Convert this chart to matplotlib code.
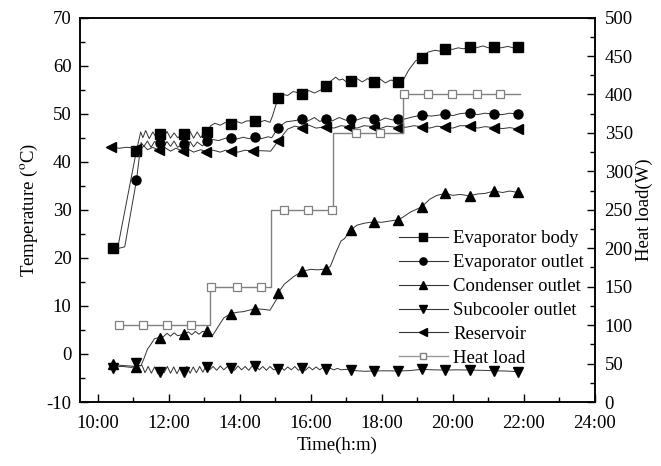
import matplotlib
matplotlib.use("Agg")
import matplotlib.pyplot as plt
from matplotlib.ticker import MultipleLocator, FixedLocator

plt.rcParams["font.family"] = ["Liberation Serif", "DejaVu Serif"]
plt.rcParams["mathtext.fontset"] = "stix"
plt.rcParams["font.size"] = 13.5
plt.rcParams["axes.unicode_minus"] = False

# time in hours, temperature in degC
# ---- evaporator body ----
body_line = [(10.42, 22.0), (10.56, 22.0), (11.09, 42.3), (11.21, 46.2), (11.27, 45.0),
             (11.35, 46.5), (11.45, 44.8), (11.55, 46.2), (11.65, 45.0), (11.75, 45.8),
             (11.85, 45.0), (11.95, 46.3), (12.05, 44.9), (12.15, 46.0), (12.25, 45.0),
             (12.4, 45.8), (12.5, 45.0), (12.6, 46.3), (12.7, 44.9), (12.8, 46.2),
             (12.9, 45.0), (13.0, 46.2), (13.09, 46.25), (13.18, 47.5), (13.3, 48.0),
             (13.45, 47.6), (13.6, 48.2), (13.75, 47.9), (13.9, 48.4), (14.05, 48.0),
             (14.2, 48.5), (14.4, 48.5), (14.55, 48.2), (14.7, 48.6), (14.85, 48.2),
             (14.92, 49.5), (15.08, 53.3), (15.2, 54.0), (15.35, 53.8), (15.5, 54.6),
             (15.75, 54.2), (15.95, 54.8), (16.1, 54.3), (16.3, 55.0), (16.44, 55.8),
             (16.55, 56.7), (16.7, 57.6), (16.8, 57.0), (16.9, 57.2), (17.0, 56.6),
             (17.12, 56.9), (17.3, 57.3), (17.45, 56.6), (17.6, 57.3), (17.77, 56.6),
             (17.95, 57.2), (18.1, 56.4), (18.25, 57.0), (18.46, 56.6), (18.58, 56.7),
             (18.75, 59.0), (18.95, 61.0), (19.12, 61.6), (19.3, 62.8), (19.5, 63.2),
             (19.65, 63.0), (19.79, 63.4), (20.0, 63.4), (20.15, 63.7), (20.3, 63.5),
             (20.48, 63.9), (20.65, 63.7), (20.85, 64.1), (21.0, 63.7), (21.16, 63.9),
             (21.35, 63.7), (21.55, 64.0), (21.7, 63.7), (21.84, 63.9)]

# ---- evaporator outlet ----
outlet_line = [(10.43, 22.0), (10.6, 22.0), (10.76, 22.3), (11.09, 36.1), (11.22, 44.0),
               (11.3, 43.2), (11.4, 44.3), (11.5, 43.0), (11.6, 44.2), (11.75, 43.8),
               (11.85, 43.0), (11.95, 44.2), (12.05, 43.2), (12.15, 44.3), (12.25, 43.0),
               (12.4, 43.7), (12.5, 43.0), (12.6, 44.2), (12.7, 43.1), (12.8, 44.1),
               (12.95, 43.3), (13.09, 44.4), (13.25, 44.6), (13.4, 44.4), (13.6, 44.9),
               (13.75, 44.9), (13.9, 44.7), (14.1, 45.1), (14.25, 44.8), (14.4, 45.1),
               (14.6, 44.8), (14.8, 45.2), (14.9, 45.0), (15.08, 47.1), (15.3, 48.3),
               (15.5, 48.5), (15.75, 48.8), (15.9, 48.4), (16.1, 49.2), (16.25, 48.4),
               (16.44, 48.8), (16.6, 48.5), (16.8, 49.2), (17.0, 48.6), (17.12, 48.9),
               (17.3, 48.7), (17.5, 49.2), (17.77, 48.9), (17.95, 48.6), (18.1, 49.1),
               (18.3, 48.7), (18.46, 48.9), (18.6, 48.8), (18.85, 49.3), (19.12, 49.7),
               (19.4, 49.5), (19.79, 49.9), (20.0, 49.6), (20.2, 50.0), (20.48, 50.2),
               (20.7, 49.8), (20.9, 50.1), (21.16, 49.9), (21.4, 49.8), (21.6, 50.1),
               (21.84, 49.9)]

# ---- condenser outlet ----
cond_line = [(10.43, -2.2), (10.7, -2.4), (10.9, -2.5), (11.09, -2.6), (11.22, -2.4),
             (11.3, -1.0), (11.4, 1.0), (11.46, 1.6), (11.6, 3.2), (11.75, 3.4),
             (11.85, 3.6), (11.95, 4.3), (12.05, 3.7), (12.15, 4.4), (12.25, 3.8),
             (12.42, 4.1), (12.55, 4.6), (12.65, 4.0), (12.75, 4.7), (12.85, 4.1),
             (12.95, 4.7), (13.08, 4.6), (13.24, 3.9), (13.4, 5.8), (13.55, 7.5),
             (13.75, 8.4), (13.95, 8.7), (14.1, 8.8), (14.42, 9.4), (14.65, 9.3),
             (14.85, 9.1), (15.03, 11.3), (15.08, 12.7), (15.25, 14.5), (15.5, 16.0),
             (15.75, 17.2), (16.0, 17.6), (16.2, 17.5), (16.44, 17.7), (16.55, 18.2),
             (16.7, 21.0), (16.85, 23.5), (16.95, 24.0), (17.12, 25.8), (17.3, 26.8),
             (17.5, 27.2), (17.77, 27.5), (18.0, 27.4), (18.25, 27.7), (18.46, 27.9),
             (18.6, 28.5), (18.8, 29.5), (19.12, 30.6), (19.35, 32.2), (19.55, 33.0),
             (19.79, 33.4), (20.0, 33.0), (20.2, 33.2), (20.48, 32.9), (20.7, 33.3),
             (20.9, 33.4), (21.16, 33.9), (21.4, 33.6), (21.6, 33.9), (21.84, 33.6)]

# ---- subcooler outlet ----
sub_line = [(10.43, -2.7), (10.7, -2.6), (10.95, -2.8), (11.09, -2.5), (11.25, -2.4),
            (11.33, -3.9), (11.42, -2.6), (11.51, -4.0), (11.6, -2.7), (11.69, -4.1),
            (11.78, -2.8), (11.87, -3.9), (11.96, -2.6), (12.05, -4.0), (12.14, -2.7),
            (12.23, -4.1), (12.32, -2.8), (12.42, -3.7), (12.51, -2.6), (12.6, -4.0),
            (12.69, -2.7), (12.78, -3.9), (12.87, -2.6), (12.96, -3.8), (13.05, -2.5),
            (13.15, -3.3), (13.25, -2.6), (13.35, -3.4), (13.45, -2.5), (13.55, -3.3),
            (13.65, -2.6), (13.75, -2.9), (13.85, -3.4), (13.95, -2.5), (14.05, -3.3),
            (14.15, -2.6), (14.25, -3.4), (14.35, -2.5), (14.45, -2.5), (14.55, -3.3),
            (14.65, -2.6), (14.75, -3.4), (14.85, -2.6), (14.95, -3.3), (15.05, -3.2),
            (15.15, -2.6), (15.25, -3.4), (15.35, -2.7), (15.45, -3.3), (15.55, -2.6),
            (15.65, -3.4), (15.75, -2.9), (15.85, -3.4), (15.95, -2.7), (16.05, -3.3),
            (16.15, -2.7), (16.25, -3.3), (16.35, -2.8), (16.45, -3.2), (16.55, -3.0),
            (16.65, -3.3), (16.75, -3.0), (16.85, -3.3), (17.0, -3.2), (17.12, -3.35),
            (17.3, -3.5), (17.5, -3.6), (17.77, -3.55), (18.1, -3.5), (18.46, -3.55),
            (18.8, -3.45), (19.12, -3.2), (19.45, -3.3), (19.79, -3.35), (20.1, -3.3),
            (20.48, -3.35), (20.8, -3.4), (21.16, -3.5), (21.5, -3.55), (21.84, -3.7)]

# ---- reservoir ----
res_line = [(10.36, 43.1), (10.6, 42.8), (10.8, 43.0), (11.0, 42.9), (11.09, 42.7),
            (11.2, 42.5), (11.3, 43.3), (11.4, 42.5), (11.55, 43.0), (11.72, 42.4),
            (11.9, 42.9), (12.05, 42.2), (12.2, 42.8), (12.4, 42.2), (12.55, 42.6),
            (12.7, 42.0), (12.9, 42.5), (13.06, 42.1), (13.25, 42.4), (13.45, 42.0),
            (13.6, 42.4), (13.75, 42.2), (13.95, 42.0), (14.15, 42.4), (14.38, 42.2),
            (14.6, 42.3), (14.87, 42.2), (15.08, 44.3), (15.35, 46.8), (15.55, 47.4),
            (15.75, 47.1), (15.95, 47.6), (16.15, 47.0), (16.44, 47.3), (16.65, 47.0),
            (16.85, 47.5), (17.08, 47.3), (17.3, 47.0), (17.5, 47.5), (17.77, 47.3),
            (17.95, 46.9), (18.15, 47.4), (18.46, 47.1), (18.7, 47.2), (18.9, 47.5),
            (19.12, 47.3), (19.35, 47.0), (19.55, 47.4), (19.79, 47.2), (20.0, 47.0),
            (20.2, 47.5), (20.48, 47.5), (20.7, 47.0), (20.9, 47.3), (21.16, 47.1),
            (21.4, 46.9), (21.6, 47.1), (21.84, 46.8)]

# marker samples
mark_t = [10.43, 11.09, 11.75, 12.42, 13.09, 13.75, 14.42, 15.08, 15.75,
          16.44, 17.12, 17.77, 18.46, 19.12, 19.79, 20.48, 21.16, 21.84]
body_mark = [22.0, 42.3, 45.8, 45.8, 46.25, 47.9, 48.5, 53.3, 54.1,
             55.8, 56.9, 56.6, 56.6, 61.6, 63.4, 63.9, 63.9, 63.9]
outlet_mark = [22.0, 36.1, 43.8, 43.7, 44.4, 44.9, 45.1, 47.1, 48.8,
               48.8, 48.9, 48.9, 48.9, 49.7, 49.9, 50.2, 49.9, 49.9]
cond_mark = [-2.0, -2.8, 3.4, 4.1, 4.7, 8.4, 9.4, 12.7, 17.2,
             17.7, 25.8, 27.5, 27.9, 30.6, 33.4, 32.9, 33.9, 33.6]
sub_mark = [-2.9, -1.8, -3.7, -3.7, -2.7, -2.9, -2.5, -3.2, -2.9,
            -3.2, -3.35, -3.55, -3.55, -3.2, -3.35, -3.35, -3.5, -3.7]
res_mark_t = [10.36, 11.09, 11.72, 12.4, 13.06, 13.75, 14.38, 15.08, 15.75,
              16.44, 17.08, 17.77, 18.46, 19.12, 19.79, 20.48, 21.16, 21.84]
res_mark = [43.1, 42.7, 42.4, 42.2, 42.1, 42.2, 42.2, 44.3, 47.1,
            47.3, 47.3, 47.3, 47.1, 47.3, 47.2, 47.5, 47.1, 46.8]

# heat load (W), stepwise
load_t = [10.6, 13.15, 14.87, 16.62, 18.6, 21.9]
load_w = [100, 150, 250, 350, 400, 400]
load_mark_t = [10.6, 11.27, 11.94, 12.62, 13.18, 13.92, 14.6, 15.24, 15.92,
               16.61, 17.28, 17.96, 18.62, 19.3, 19.97, 20.67, 21.34]
load_mark_w = [100, 100, 100, 100, 150, 150, 150, 250, 250,
               250, 350, 350, 400, 400, 400, 400, 400]

tick_hours = [10, 12, 14, 16, 18, 20, 22, 24]
tick_labels = ["10:00", "12:00", "14:00", "16:00", "18:00", "20:00", "22:00", "24:00"]

fig = plt.figure(figsize=(6.61, 4.66), dpi=100)
ax = fig.add_axes([0.121, 0.1373, 0.779, 0.825])
ax2 = ax.twinx()

series = [
    ("Evaporator body", body_line, mark_t, body_mark, "s", 6.5),
    ("Evaporator outlet", outlet_line, mark_t, outlet_mark, "o", 6.5),
    ("Condenser outlet", cond_line, mark_t, cond_mark, "^", 7.5),
    ("Subcooler outlet", sub_line, mark_t, sub_mark, "v", 7.5),
    ("Reservoir", res_line, res_mark_t, res_mark, "<", 7.5),
]

handles = []
for name, line, mt, mv, mk, ms in series:
    lt = [p[0] for p in line]
    lv = [p[1] for p in line]
    ax.plot(lt, lv, color="#333333", lw=0.7)
    ax.plot(mt, mv, ls="none", marker=mk, ms=ms, color="black")
    h, = ax.plot([], [], color="#333333", lw=0.8, marker=mk, ms=ms * 0.8,
                 markerfacecolor="black", markeredgecolor="black")
    handles.append(h)

ax2.plot(load_t, load_w, drawstyle="steps-post", color="#808080", lw=1.0)
ax2.plot(load_mark_t, load_mark_w, ls="none", marker="s", ms=5.5,
         markerfacecolor="white", markeredgecolor="#808080", markeredgewidth=0.9)
h, = ax2.plot([], [], color="#999999", lw=1.0, marker="s", ms=5,
              markerfacecolor="white", markeredgecolor="#808080")
handles.append(h)

ax.set_xlim(9.5, 24)
ax.set_ylim(-10, 70)
ax2.set_ylim(0, 500)
ax.xaxis.set_major_locator(FixedLocator(tick_hours))
ax.set_xticklabels(tick_labels)
ax.xaxis.set_minor_locator(MultipleLocator(1))
ax.yaxis.set_major_locator(MultipleLocator(10))
ax.yaxis.set_minor_locator(MultipleLocator(5))
ax2.yaxis.set_major_locator(MultipleLocator(50))
ax2.yaxis.set_minor_locator(MultipleLocator(25))

for a in (ax, ax2):
    a.tick_params(which="both", direction="in", width=1.0)
    a.tick_params(which="major", length=6)
    a.tick_params(which="minor", length=3.5)
    for s in a.spines.values():
        s.set_linewidth(1.1)
ax.tick_params(top=False, right=False, which="both")
ax.tick_params(axis="x", pad=9)
ax.tick_params(axis="y", pad=6)
ax2.tick_params(axis="y", which="both", left=False, pad=7)

ax.set_xlabel("Time(h:m)", labelpad=4)
ax.set_ylabel("Temperature ($^\\mathrm{o}$C)", labelpad=5)
ax2.set_ylabel("Heat load(W)", labelpad=2)

labels = [s[0] for s in series] + ["Heat load"]
ax2.legend(handles, labels, loc="lower left", bbox_to_anchor=(0.605, 0.072),
           frameon=False, handlelength=2.6, handletextpad=0.3,
           labelspacing=0.36, borderaxespad=0, fontsize=13.5)

fig.savefig("out.png", dpi=100)
